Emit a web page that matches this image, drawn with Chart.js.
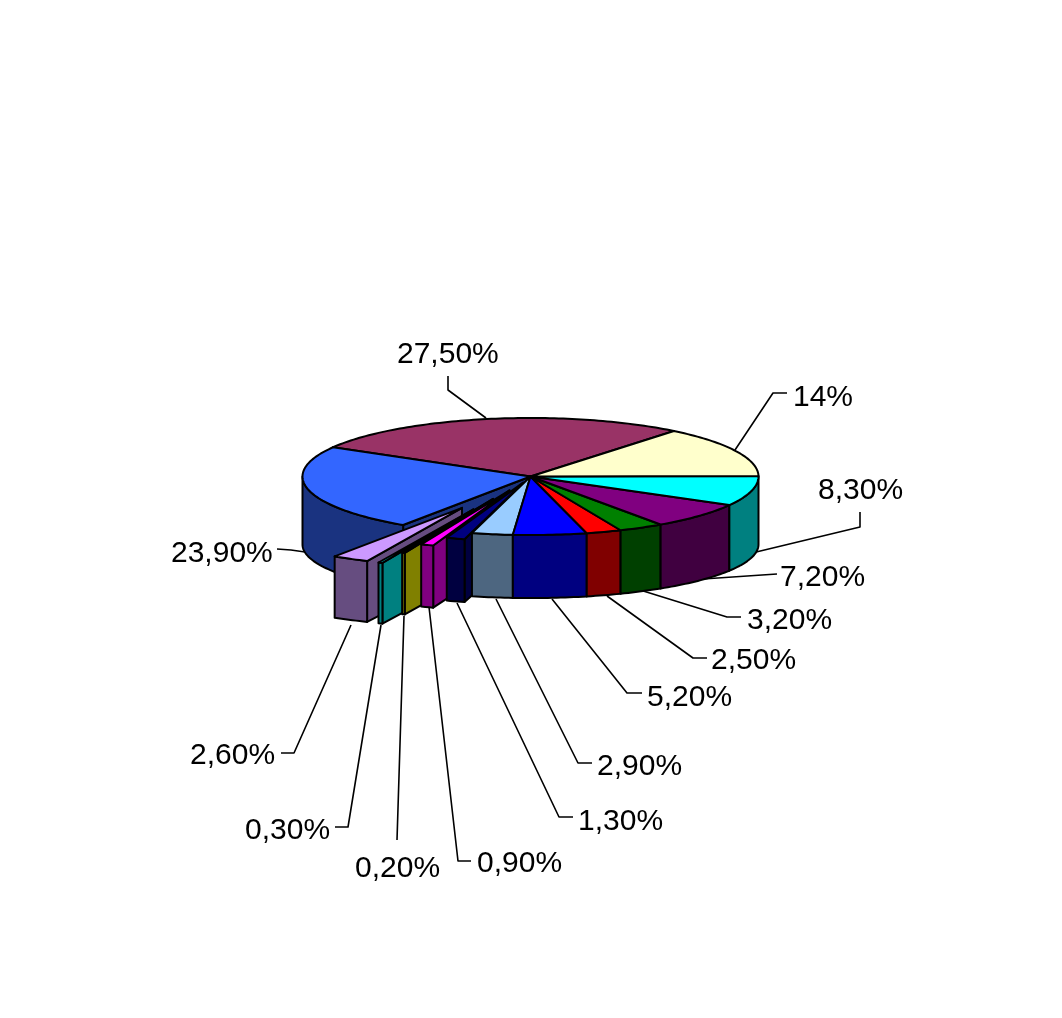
<!DOCTYPE html>
<html>
<head>
<meta charset="utf-8">
<style>
  html, body { margin: 0; padding: 0; background: #fff; }
  canvas { display: block; }
</style>
<script src="https://cdn.jsdelivr.net/npm/chart.js@4"></script>
</head>
<body>
<canvas id="myCanvas" width="1062" height="1018"></canvas>
<script>
// slices clockwise, starting with the 14% one
var values = [14, 8.3, 7.2, 3.2, 2.5, 5.2, 2.9, 1.3, 0.9, 0.2, 0.3, 2.6, 23.9, 27.5];
var labels = ['14%', '8,30%', '7,20%', '3,20%', '2,50%', '5,20%', '2,90%', '1,30%', '0,90%', '0,20%', '0,30%', '2,60%', '23,90%', '27,50%'];
var topColors = ['#FFFFCC', '#00FFFF', '#800080', '#008000', '#FF0000', '#0000FF', '#99CCFF', '#000080', '#FF00FF', '#FFFF00', '#00FFFF', '#CC99FF', '#3366FF', '#993366'];
var sideColors = ['#808066', '#008080', '#400040', '#004000', '#800000', '#000080', '#4D6680', '#000040', '#800080', '#808000', '#008080', '#664D80', '#1A3380', '#4D1A33'];
var explode = [0, 0, 0, 0, 0, 0, 0, 25, 58, 95, 140, 140, 0, 0];

// label placement, same order as the slices: [x, baseline]
var labelPos = [[793, 406], [818, 499], [780, 586], [747, 629], [711, 669], [647, 706], [597, 775], [578, 830], [477, 872], [355, 877], [245, 839], [190, 764], [171, 562], [397, 363]];
var leaders = [
  [[787, 393], [773, 393], [735, 450]],
  [[860, 512], [860, 527], [752, 553]],
  [[777, 574], [762, 575], [703, 579]],
  [[741, 617], [727, 617], [640, 590]],
  [[707, 658], [693, 658], [607, 596]],
  [[642, 693], [627, 693], [552, 599]],
  [[592, 763], [578, 763], [496, 599]],
  [[573, 817], [559, 817], [457, 603]],
  [[471, 861], [458, 861], [429, 607]],
  [[397, 840], [404, 616]],
  [[335, 827], [348, 827], [381, 625]],
  [[281, 753], [294, 753], [351, 625]],
  [[277, 549], [291, 550], [312, 553]],
  [[448, 376], [448, 390], [486, 418]]
];

// back slices first, exploded ones next, front ones last
var drawOrder = [13, 12, 11, 10, 9, 8, 7, 6, 5, 4, 3, 2, 1, 0];
var topSquash = 0.2566;
var bottomSquash = 0.235;
var depth = 68;

function point(arc, angle, r, level) {
  var mid = (arc.startAngle + arc.endAngle) / 2;
  var off = arc.options.offset || 0;
  var sq = level ? bottomSquash : topSquash;
  return [
    arc.x + Math.cos(mid) * off + Math.cos(angle) * r,
    arc.y + (level ? depth : 0) + sq * (Math.sin(mid) * off + Math.sin(angle) * r)
  ];
}

function shape(ctx, pts, fill) {
  ctx.beginPath();
  pts.forEach(function (p, i) {
    if (i == 0) ctx.moveTo(p[0], p[1]);
    else ctx.lineTo(p[0], p[1]);
  });
  ctx.closePath();
  ctx.fillStyle = fill;
  ctx.fill();
  ctx.stroke();
}

function rim(arc, from, to, level) {
  var pts = [];
  var n = Math.max(2, Math.ceil((to - from) / 0.02));
  for (var i = 0; i <= n; i++) {
    pts.push(point(arc, from + (to - from) * i / n, arc.outerRadius, level));
  }
  return pts;
}

function drawSlice(ctx, arc, i) {
  var a0 = arc.startAngle, a1 = arc.endAngle, r = arc.outerRadius;
  // cut face on the leading edge, only seen when it looks at the viewer
  if (Math.sin(a0 - Math.PI / 2) > 0) {
    shape(ctx, [point(arc, a0, 0, 0), point(arc, a0, r, 0), point(arc, a0, r, 1), point(arc, a0, 0, 1)], sideColors[i]);
  }
  // outer wall, front half of the ring only
  var from = Math.max(a0, 0), to = Math.min(a1, Math.PI);
  if (to > from) {
    shape(ctx, rim(arc, from, to, 0).concat(rim(arc, from, to, 1).reverse()), sideColors[i]);
  }
  // top
  shape(ctx, [point(arc, a0, 0, 0)].concat(rim(arc, a0, a1, 0)), arc.options.backgroundColor);
}

var pie3d = {
  id: 'pie3d',
  beforeDatasetsDraw: function (chart) {
    var ctx = chart.ctx;
    var arcs = chart.getDatasetMeta(0).data;
    ctx.save();
    ctx.strokeStyle = '#000';
    ctx.lineJoin = 'round';

    ctx.lineWidth = 1.6;
    leaders.forEach(function (line) {
      ctx.beginPath();
      line.forEach(function (p, i) {
        if (i == 0) ctx.moveTo(p[0], p[1]);
        else ctx.lineTo(p[0], p[1]);
      });
      ctx.stroke();
    });

    ctx.lineWidth = 2;
    drawOrder.forEach(function (i) {
      drawSlice(ctx, arcs[i], i);
    });

    ctx.fillStyle = '#000';
    ctx.font = '30px "Liberation Sans"';
    ctx.textAlign = 'left';
    ctx.textBaseline = 'alphabetic';
    labels.forEach(function (text, i) {
      ctx.fillText(text, labelPos[i][0], labelPos[i][1]);
    });
    ctx.restore();
    return false;
  }
};

var c = document.getElementById("myCanvas");
var pieChart = new Chart(c.getContext("2d"), {
  type: "pie",
  data: {
    labels: labels,
    datasets: [{
      data: values,
      backgroundColor: topColors,
      offset: explode,
      borderWidth: 0
    }]
  },
  options: {
    responsive: false,
    animation: false,
    rotation: 39,
    radius: 228,
    layout: { padding: { right: 1, bottom: 65 } },
    plugins: {
      legend: { display: false },
      tooltip: { enabled: false }
    }
  },
  plugins: [pie3d]
});
</script>
</body>
</html>
